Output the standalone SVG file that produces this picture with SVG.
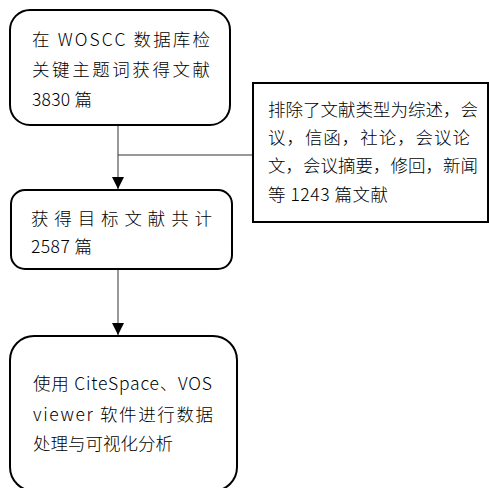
<svg xmlns="http://www.w3.org/2000/svg" width="489" height="488" viewBox="0 0 489 488">
<style>
.box{fill:#fff;stroke:#000;stroke-width:2}
.t{font-family:"Noto Sans CJK SC","Noto Sans",sans-serif;font-size:17.5px;font-weight:300;fill:#000}
.c{stroke:#333;stroke-width:1;fill:none}
</style>
<defs>
<marker id="ah" markerWidth="12" markerHeight="12" refX="10" refY="5" orient="auto" markerUnits="userSpaceOnUse" viewBox="0 0 10 10">
<path d="M0,0 L10,5 L0,10 Z" fill="#000"/>
</marker>
</defs>
<g id="connectors">
<line class="c" x1="118" y1="125" x2="118" y2="189" marker-end="url(#ah)"/>
<line class="c" x1="118" y1="155" x2="253" y2="155"/>
<line class="c" x1="118" y1="269" x2="118" y2="335" marker-end="url(#ah)"/>
</g>
<g id="n1">
<rect class="box" x="10" y="10" width="220" height="115" rx="20"/>
<text class="t" x="32" y="46" textLength="178" lengthAdjust="spacing">在 WOSCC 数据库检</text>
<text class="t" x="32" y="76" textLength="178" lengthAdjust="spacing">关键主题词获得文献</text>
<text class="t" x="32" y="106" textLength="60" lengthAdjust="spacing">3830 篇</text>
</g>
<g id="n2">
<rect class="box" x="253" y="83" width="235" height="139"/>
<text class="t" x="268" y="116" textLength="210" lengthAdjust="spacing">排除了文献类型为综述，会</text>
<text class="t" x="268" y="144" textLength="202" lengthAdjust="spacing">议，信函，社论，会议论</text>
<text class="t" x="268" y="172" textLength="210" lengthAdjust="spacing">文，会议摘要，修回，新闻</text>
<text class="t" x="268" y="201" textLength="120" lengthAdjust="spacing">等 1243 篇文献</text>
</g>
<g id="n3">
<rect class="box" x="11" y="190" width="221" height="79" rx="14"/>
<text class="t" x="31" y="225" textLength="181" lengthAdjust="spacing">获得目标文献共计</text>
<text class="t" x="31" y="253" textLength="61" lengthAdjust="spacing">2587 篇</text>
</g>
<g id="n4">
<rect class="box" x="10" y="336" width="227" height="155" rx="24"/>
<text class="t" x="33" y="390" textLength="179" lengthAdjust="spacing">使用 CiteSpace、VOS</text>
<text class="t" x="33" y="421" textLength="180" lengthAdjust="spacing">viewer 软件进行数据</text>
<text class="t" x="33" y="450" textLength="140" lengthAdjust="spacing">处理与可视化分析</text>
</g>
</svg>
